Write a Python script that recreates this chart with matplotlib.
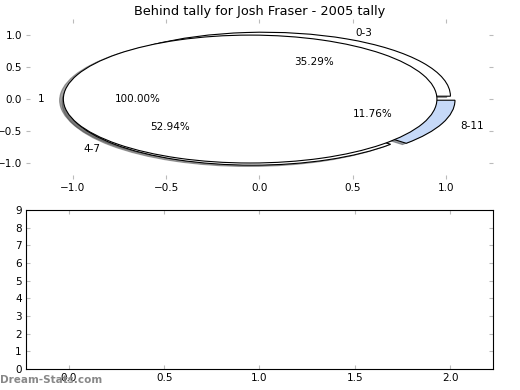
import matplotlib
matplotlib.use("Agg")
import matplotlib.pyplot as plt

title = "Behind tally for Josh Fraser - 2005 tally"
outer_labels = ["1"]
outer_values = [17]
outer_colors = ["white"]
inner_labels = ["0-3", "4-7", "8-11"]
inner_values = [6, 9, 2]
inner_colors = ["white", "white", "#c6d9f8"]
explode_amount = 0.05

bottom_yticks = list(range(0, 10))
bottom_xticks = [0.0, 0.5, 1.0, 1.5, 2.0]

fs = 7.5
DPI = 100
fig = plt.figure(figsize=(5.2, 3.9), dpi=DPI)
ax1 = fig.add_axes([0.05, 0.541, 0.898, 0.41])
ax2 = fig.add_axes([0.05, 0.054, 0.898, 0.4075])

sh = -0.02 * 72 / DPI


def draw_pie(ax, vals, labels, colors):
    wedges, texts, autotexts = ax.pie(
        vals, labels=labels, colors=colors, explode=[explode_amount] * len(vals),
        autopct="%1.2f%%", shadow=dict(ox=sh, oy=sh), startangle=0, pctdistance=0.6,
        labeldistance=1.1, wedgeprops=dict(edgecolor="black", linewidth=0.8),
        textprops=dict(fontsize=fs))
    for t in texts:
        x, y = t.get_position()
        t.set_ha("left" if x > 0 else "right")
        t.set_va("center")
    return wedges


draw_pie(ax1, inner_values, inner_labels, inner_colors)
draw_pie(ax1, outer_values, outer_labels, outer_colors)

ax1.set_aspect("auto")
ax1.set_frame_on(False)
ax1.set_xlim(-1.25, 1.25)
ax1.set_ylim(-1.25, 1.25)
ticks = [-1.0, -0.5, 0.0, 0.5, 1.0]
ax1.set_xticks(ticks)
ax1.set_yticks(ticks)
ax1.set_title(title, fontsize=9.3, pad=3)

for ax in (ax1, ax2):
    ax.tick_params(direction="in", length=3, width=0.8, colors="#bbbbbb",
                   labelcolor="black", labelsize=fs, top=True, right=True, pad=3)

ax2.set_xlim(-0.225, 2.225)
ax2.set_ylim(0, 9)
ax2.set_xticks(bottom_xticks)
ax2.set_yticks(bottom_yticks)
for s in ax2.spines.values():
    s.set_linewidth(0.8)

fig.text(0.0, 0.012, "Dream-Stats.com", color="#888888", fontsize=7.5,
         fontweight="bold", ha="left", va="bottom", zorder=10)

fig.savefig("out.png", dpi=DPI)
